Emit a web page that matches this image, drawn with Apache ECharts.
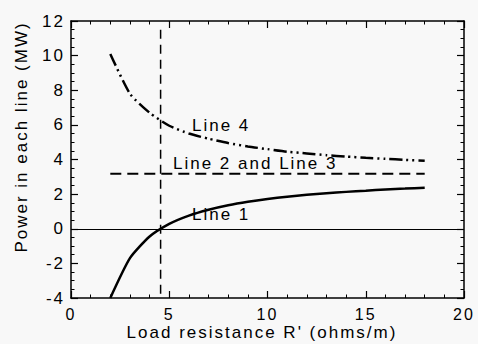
<!DOCTYPE html>
<html>
<head>
<meta charset="utf-8">
<script src="https://cdn.jsdelivr.net/npm/echarts@6/dist/echarts.min.js"></script>
<style>
  html, body { margin: 0; padding: 0; background: #f8f8f8; }
  #chart { width: 478px; height: 344px; }
  /* the scanned original has widely spaced lettering */
  #chart text { letter-spacing: 2px; }
</style>
</head>
<body>
<div id="chart"></div>
<script>
// load resistance R' (ohms/m)
const resistance = [2, 3, 4, 5, 6, 7, 8, 9, 10, 11, 12, 13, 14, 15, 16, 17, 18];
// power in each line (MW)
const line1 = [-4.0, -1.7, -0.45, 0.28, 0.76, 1.1, 1.36, 1.56, 1.72, 1.85, 1.96, 2.05, 2.13, 2.2, 2.27, 2.32, 2.37];
const line23 = [3.17, 3.17, 3.17, 3.17, 3.17, 3.17, 3.17, 3.17, 3.17, 3.17, 3.17, 3.17, 3.17, 3.17, 3.17, 3.17, 3.17];
const line4 = [10.1, 7.8, 6.7, 5.95, 5.5, 5.2, 4.95, 4.75, 4.6, 4.45, 4.35, 4.25, 4.17, 4.1, 4.04, 3.98, 3.93];
// vertical marker where line 1 crosses zero
const markerX = 4.56;
const markerSpan = [11.5, -4];

const xTicks = [0, 5, 10, 15, 20];
const yTicks = [-4, -2, 0, 2, 4, 6, 8, 10, 12];

const font = "'Liberation Sans', Arial, sans-serif";
const black = "#000";

const chart = echarts.init(document.getElementById("chart"), null, { renderer: "svg" });

const pairs = (ys) => resistance.map((r, i) => [r, ys[i]]);

// shared look for the boxed axes with inward ticks
const tickStyle = {
  axisLine: { show: true, onZero: false, lineStyle: { color: black, width: 1.5 } },
  axisTick: { show: true, inside: true, length: 7, lineStyle: { color: black, width: 1.2 } },
  splitLine: { show: false },
};
const minor = (n) => ({ show: true, splitNumber: n, length: 3.5, lineStyle: { color: black, width: 1 } });

const option = {
  backgroundColor: "#f8f8f8",
  animation: false,
  grid: { left: 71, right: 14, top: 21, bottom: 46 },
  xAxis: [
    {
      type: "value",
      min: xTicks[0],
      max: xTicks[xTicks.length - 1],
      interval: 5,
      axisLabel: { fontFamily: font, fontSize: 16, color: black, margin: 8 },
      minorTick: minor(5),
      ...tickStyle,
    },
    {
      type: "value",
      position: "top",
      min: xTicks[0],
      max: xTicks[xTicks.length - 1],
      interval: 5,
      axisLabel: { show: false },
      minorTick: minor(5),
      ...tickStyle,
    },
  ],
  yAxis: [
    {
      type: "value",
      min: yTicks[0],
      max: yTicks[yTicks.length - 1],
      interval: 2,
      axisLabel: { fontFamily: font, fontSize: 17, color: black, margin: 6 },
      minorTick: minor(4),
      ...tickStyle,
    },
    {
      type: "value",
      position: "right",
      min: yTicks[0],
      max: yTicks[yTicks.length - 1],
      interval: 2,
      axisLabel: { show: false },
      minorTick: minor(4),
      ...tickStyle,
    },
  ],
  series: [
    {
      name: "Line 1",
      type: "line",
      data: pairs(line1),
      showSymbol: false,
      smooth: 0.2,
      lineStyle: { color: black, width: 2.5 },
      markLine: {
        silent: true,
        symbol: "none",
        label: { show: false },
        lineStyle: { color: black, width: 1.2, type: "solid" },
        data: [{ yAxis: 0 }],
      },
    },
    {
      name: "Line 2 and Line 3",
      type: "line",
      data: pairs(line23),
      showSymbol: false,
      lineStyle: { color: black, width: 2, type: [11, 6] },
    },
    {
      name: "Line 4",
      type: "line",
      data: pairs(line4),
      showSymbol: false,
      smooth: 0.2,
      lineStyle: { color: black, width: 2.5, type: [13, 4, 2, 4, 2, 4] },
    },
    {
      name: "marker",
      type: "line",
      data: markerSpan.map((y) => [markerX, y]),
      showSymbol: false,
      lineStyle: { color: black, width: 1.5, type: [9, 6] },
    },
  ],
  graphic: [
    // axis titles sit a little off the plot centre in the original
    {
      type: "text", x: 21, y: 137, rotation: Math.PI / 2,
      style: { text: "Power in each line (MW)", font: "17px " + font, fill: black, align: "center", verticalAlign: "middle" },
    },
    {
      type: "text", x: 262, y: 332,
      style: { text: "Load resistance R' (ohms/m)", font: "17px " + font, fill: black, align: "center", verticalAlign: "middle" },
    },
    { type: "text", left: 192, top: 117, style: { text: "Line 4", font: "17px " + font, fill: black } },
    { type: "text", left: 173, top: 155, style: { text: "Line 2 and Line 3", font: "17px " + font, fill: black } },
    { type: "text", left: 192, top: 206, style: { text: "Line 1", font: "17px " + font, fill: black } },
  ],
};

chart.setOption(option);
</script>
</body>
</html>
